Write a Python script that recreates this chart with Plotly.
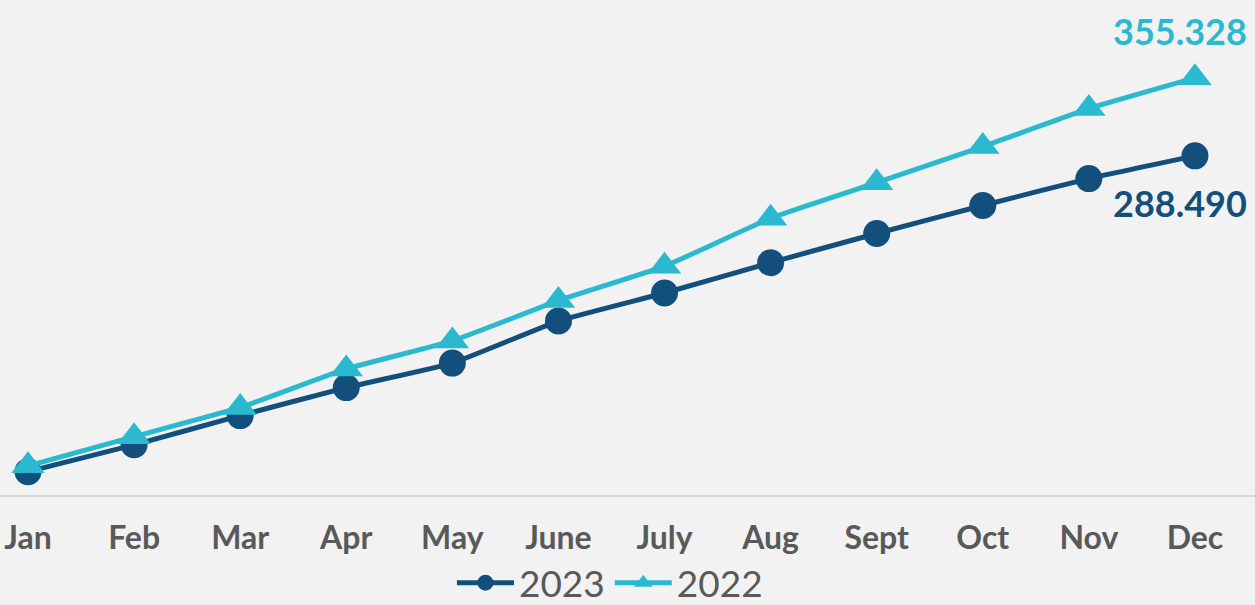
import plotly.graph_objects as go

months = ["Jan", "Feb", "Mar", "Apr", "May", "June", "July", "Aug", "Sept", "Oct", "Nov", "Dec"]
values_2023 = [18, 41, 66, 90, 111, 147, 171, 197, 222, 246, 269, 288.490]
values_2022 = [23, 48, 73, 106, 130, 164.5, 194, 235, 265.5, 296.5, 329, 355.328]
label_2023 = "288.490"
label_2022 = "355.328"

c2023 = "#134f7c"
c2022 = "#2bb9d0"
grey = "#595959"
bg = "#f2f2f2"

fig = go.Figure()
fig.add_trace(go.Scatter(
    x=months, y=values_2023, name="2023", mode="lines+markers",
    line=dict(color=c2023, width=5, shape="spline", smoothing=0.4),
    marker=dict(symbol="circle", size=27, color=c2023),
))
fig.add_trace(go.Scatter(
    x=months, y=values_2022, name="2022", mode="lines+markers",
    line=dict(color=c2022, width=5, shape="spline", smoothing=0.4),
    marker=dict(symbol="triangle-up", size=29, color=c2022),
))

fig.add_annotation(x=months[-1], y=values_2022[-1], text=label_2022, showarrow=False,
                   xanchor="center", yanchor="middle", xshift=-15, yshift=47,
                   font=dict(family="Lato", size=36, color=c2022, weight="bold"))
fig.add_annotation(x=months[-1], y=values_2023[-1], text=label_2023, showarrow=False,
                   xanchor="center", yanchor="middle", xshift=-15, yshift=-47,
                   font=dict(family="Lato", size=36, color=c2023, weight="bold"))

fig.update_layout(
    width=1255, height=605,
    margin=dict(l=0, r=0, t=0, b=110, autoexpand=False),
    paper_bgcolor=bg, plot_bgcolor=bg,
    font=dict(family="Lato", color=grey),
    showlegend=True,
    legend=dict(orientation="h", x=0.486, xanchor="center", y=-0.178, yanchor="middle",
                font=dict(family="Lato", size=37, color=grey),
                itemwidth=57, bgcolor="rgba(0,0,0,0)", tracegroupgap=0),
    xaxis=dict(range=[-0.264, 11.566], showgrid=False, zeroline=False,
               showline=True, linecolor="#d9d9d9", linewidth=2,
               ticks="outside", ticklen=14, tickcolor=bg, automargin=False,
               tickfont=dict(family="Lato", size=32, color=grey, weight="bold")),
    yaxis=dict(range=[-2, 422], showgrid=False, zeroline=False, showline=False,
               showticklabels=False, automargin=False),
)

fig.write_html(
    "out.html",
    config={"displayModeBar": False},
    post_script="document.body.style.margin='0';document.body.style.background='#f2f2f2';",
)
